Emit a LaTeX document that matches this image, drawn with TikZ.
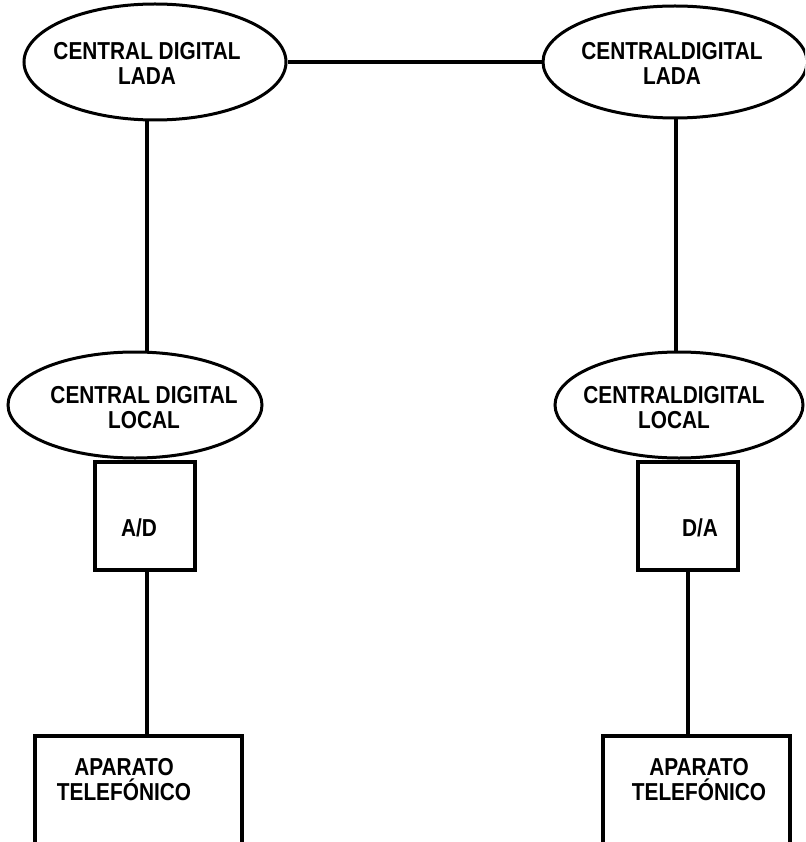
\documentclass[tikz,border=0pt]{standalone}
\usepackage{fontspec}
\usetikzlibrary{shapes.geometric}
\newfontfamily\lblfont[FakeStretch=0.85]{Liberation Sans}

\tikzset{
  central/.style={draw, ellipse, line width=3pt, inner sep=0pt},
  convbox/.style={draw, rectangle, line width=3.4pt, inner sep=0pt},
  lbl/.style={align=center, inner sep=0pt,
    font=\lblfont\bfseries\fontsize{24.5}{25}\selectfont},
  wire/.style={line width=3.2pt},
}

\begin{document}
\begin{tikzpicture}[x=1pt, y=-1pt]
  \useasboundingbox (0,0) rectangle (805,842);
  \clip (0,0) rectangle (805,842);

  % long-distance exchanges
  \node[central, minimum width=262pt, minimum height=116pt] (ladaL) at (155,62) {};
  \node[central, minimum width=264pt, minimum height=112pt] (ladaR) at (675,62) {};
  \node[lbl] (ladaLt) at (147,63) {CENTRAL DIGITAL\\LADA};
  \node[lbl] (ladaRt) at (672,63) {CENTRALDIGITAL\\LADA};

  % local exchanges
  \node[central, minimum width=254pt, minimum height=106pt] (locL) at (135,405) {};
  \node[central, minimum width=248pt, minimum height=106pt] (locR) at (679,405) {};
  \node[lbl] (locLt) at (144,408) {CENTRAL DIGITAL\\LOCAL};
  \node[lbl] (locRt) at (674,408) {CENTRALDIGITAL\\LOCAL};

  % converters
  \node[convbox, minimum width=100pt, minimum height=108pt] (ad) at (145,516) {};
  \node[convbox, minimum width=100pt, minimum height=108pt] (da) at (688,516) {};
  \node[lbl] (adt) at (139,528) {A/D};
  \node[lbl] (dat) at (700,528) {D/A};

  % telephone sets (open at the bottom edge)
  \node[convbox, minimum width=207pt, minimum height=164pt] (telL) at (138.5,818) {};
  \node[convbox, minimum width=187pt, minimum height=164pt] (telR) at (696.5,818) {};
  \node[lbl] (telLt) at (124,780) {APARATO\\TELEF\'ONICO};
  \node[lbl] (telRt) at (699,780) {APARATO\\TELEF\'ONICO};

  % vertical runs
  \coordinate (xl) at (147,0);
  \coordinate (xr) at (676,0);
  \coordinate (xr2) at (688,0);

  % connections
  \draw[wire] (ladaL.east) -- (ladaR.west);
  \draw[wire] (ladaL.south -| xl) -- (locL.north -| xl);
  \draw[wire] (ladaR.south -| xr) -- (locR.north -| xr);
  \draw[wire] (ad.south -| xl) -- (telL.north -| xl);
  \draw[wire] (da.south -| xr2) -- (telR.north -| xr2);
\end{tikzpicture}
\end{document}
